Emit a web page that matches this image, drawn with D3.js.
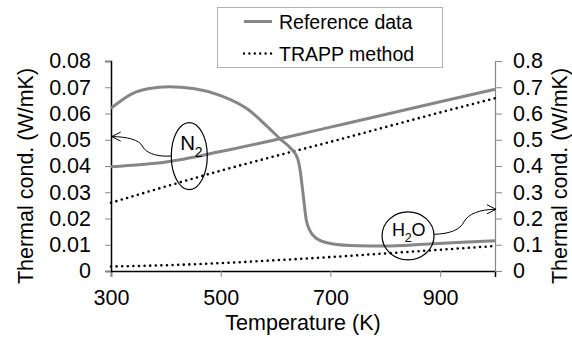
<!DOCTYPE html>
<html>
<head>
<meta charset="utf-8">
<script src="https://cdn.jsdelivr.net/npm/d3@7"></script>
<style>
  body { margin: 0; background: #fff; }
  text { font-family: "Liberation Sans", Arial, sans-serif; }
</style>
</head>
<body>
<div id="chart"></div>
<script>
// temperatures (K) and thermal conductivity (W/mK)
const n2Temp = [300, 400, 500, 600, 700, 800, 900, 1000];
const n2Ref = [0.0397, 0.0415, 0.0455, 0.0500, 0.0548, 0.0596, 0.0645, 0.0692];
const n2Trapp = [0.0260, 0.0322, 0.0382, 0.0438, 0.0492, 0.0548, 0.0604, 0.0658];

const h2oTemp = [300, 340, 370, 405, 450, 500, 550, 585, 610, 630, 640, 645, 650, 656, 662, 674, 700, 750, 800, 870, 930, 1000];
const h2oRef = [0.620, 0.677, 0.695, 0.702, 0.695, 0.668, 0.615, 0.550, 0.500, 0.462, 0.430, 0.380, 0.296, 0.194, 0.156, 0.125, 0.105, 0.096, 0.095, 0.102, 0.109, 0.115];
const h2oTrappTemp = [300, 400, 500, 600, 700, 800, 900, 1000];
const h2oTrapp = [0.017, 0.022, 0.030, 0.041, 0.053, 0.067, 0.081, 0.095];

const xTicks = [300, 500, 700, 900];
const leftTicks = [0, 0.01, 0.02, 0.03, 0.04, 0.05, 0.06, 0.07, 0.08];
const rightTicks = [0, 0.1, 0.2, 0.3, 0.4, 0.5, 0.6, 0.7, 0.8];
const legendLabels = ["Reference data", "TRAPP method"];

const W = 572, H = 339;
const margin = {top: 61, right: 77, bottom: 68, left: 111},
  width = W - margin.left - margin.right,
  height = H - margin.top - margin.bottom;

const grey = "#868686";
const fontSize = "21.5px";

const svg = d3.select("#chart")
  .append("svg")
  .attr("width", W)
  .attr("height", H);

const g = svg.append("g")
  .attr("transform", `translate(${margin.left},${margin.top})`);

const x = d3.scaleLinear().domain([300, 1000]).range([0, width]);
const yL = d3.scaleLinear().domain([0, 0.08]).range([height, 0]);
const yR = d3.scaleLinear().domain([0, 0.8]).range([height, 0]);

// axes
const xAxis = g.append("g")
  .attr("transform", `translate(0,${height})`)
  .call(d3.axisBottom(x).tickValues(xTicks).tickSize(6).tickPadding(13).tickFormat(d3.format("d")));
xAxis.select(".domain").attr("stroke", "#000").attr("stroke-width", 1.5);

const leftAxis = g.append("g")
  .call(d3.axisLeft(yL).tickValues(leftTicks).tickSize(6).tickPadding(14)
    .tickFormat(d => d === 0 ? "0" : d3.format(".2f")(d)));
leftAxis.select(".domain").attr("stroke", "#000").attr("stroke-width", 1.5);

const rightAxis = g.append("g")
  .attr("transform", `translate(${width},0)`)
  .call(d3.axisRight(yR).tickValues(rightTicks).tickSize(7).tickPadding(11)
    .tickFormat(d => d === 0 ? "0" : d3.format(".1f")(d)));
rightAxis.select(".domain").attr("stroke", grey).attr("stroke-width", 1.2);

g.selectAll(".tick line").attr("stroke", grey);
g.selectAll(".tick text")
  .style("font-size", fontSize)
  .style("font-family", "Liberation Sans, Arial, sans-serif")
  .attr("fill", "#000");

// axis titles
svg.append("text")
  .attr("transform", "translate(33,176) rotate(-90)")
  .attr("text-anchor", "middle")
  .style("font-size", fontSize)
  .text("Thermal cond. (W/mK)");

svg.append("text")
  .attr("transform", "translate(566.5,176) rotate(-90)")
  .attr("text-anchor", "middle")
  .style("font-size", fontSize)
  .text("Thermal cond. (W/mK)");

svg.append("text")
  .attr("x", margin.left + width / 2)
  .attr("y", 330)
  .attr("text-anchor", "middle")
  .style("font-size", fontSize)
  .text("Temperature (K)");

// lines
const lineOf = (ys, temps, yScale) => d3.line()
  .x((d, i) => x(temps[i]))
  .y(d => yScale(d))
  .curve(d3.curveMonotoneX)(ys);

function solid(d) {
  g.append("path").attr("d", d).attr("fill", "none")
    .attr("stroke", grey).attr("stroke-width", 3);
}
function dotted(d) {
  g.append("path").attr("d", d).attr("fill", "none")
    .attr("stroke", "#000").attr("stroke-width", 2.6)
    .attr("stroke-linecap", "round")
    .attr("stroke-dasharray", "0,5.6");
}

dotted(lineOf(h2oTrapp, h2oTrappTemp, yR));
dotted(lineOf(n2Trapp, n2Temp, yL));
solid(lineOf(h2oRef, h2oTemp, yR));
solid(lineOf(n2Ref, n2Temp, yL));

// annotations
svg.append("defs").append("marker")
  .attr("id", "arr")
  .attr("markerUnits", "userSpaceOnUse")
  .attr("markerWidth", 12).attr("markerHeight", 12)
  .attr("refX", 10).attr("refY", 6)
  .attr("orient", "auto")
  .append("path")
  .attr("d", "M1,1.5 L10,6 L1,10.5")
  .attr("fill", "none").attr("stroke", "#000").attr("stroke-width", 1);

const n2c = [x(442.7), yL(0.0438)];
g.append("ellipse")
  .attr("cx", n2c[0]).attr("cy", n2c[1]).attr("rx", 18).attr("ry", 33.5)
  .attr("fill", "none").attr("stroke", "#000").attr("stroke-width", 1.2);
g.append("text").attr("x", n2c[0] - 9).attr("y", n2c[1] - 6)
  .style("font-size", "20.5px").text("N");
g.append("text").attr("x", n2c[0] + 5.5).attr("y", n2c[1] + 0.5)
  .style("font-size", "14px").text("2");

const n2tip = [0.7, yL(0.0512)];
g.append("path")
  .attr("d", `M${n2c[0] - 18},${n2c[1]} C${n2c[0] - 35},${n2c[1] + 1} ${n2c[0] - 44},${n2c[1] - 4} ${n2c[0] - 47},${n2c[1] - 10} C${n2c[0] - 50},${n2c[1] - 16} ${n2c[0] - 62},${n2tip[1]} ${n2tip[0]},${n2tip[1]}`)
  .attr("fill", "none").attr("stroke", "#000").attr("stroke-width", 1)
  .attr("marker-end", "url(#arr)");

const h2oc = [x(841.5), yR(0.134)];
g.append("ellipse")
  .attr("cx", h2oc[0]).attr("cy", h2oc[1]).attr("rx", 26).attr("ry", 24)
  .attr("fill", "none").attr("stroke", "#000").attr("stroke-width", 1.2);
g.append("text").attr("x", h2oc[0] - 16).attr("y", h2oc[1] + 0.5)
  .style("font-size", "18px").text("H");
g.append("text").attr("x", h2oc[0] - 3.3).attr("y", h2oc[1] + 6)
  .style("font-size", "12.5px").text("2");
g.append("text").attr("x", h2oc[0] + 3.5).attr("y", h2oc[1] + 0.5)
  .style("font-size", "18px").text("O");

const h2otip = [width + 1, yR(0.235)];
g.append("path")
  .attr("d", `M${h2oc[0] + 26},${h2oc[1] - 1.5} C${h2oc[0] + 42},${h2oc[1] - 2} ${h2oc[0] + 52},${h2oc[1] - 6} ${h2oc[0] + 56},${h2oc[1] - 14} C${h2oc[0] + 60},${h2oc[1] - 22} ${h2oc[0] + 72},${h2otip[1]} ${h2otip[0]},${h2otip[1]}`)
  .attr("fill", "none").attr("stroke", "#000").attr("stroke-width", 1)
  .attr("marker-end", "url(#arr)");

// legend
const legend = svg.append("g");
legend.append("rect")
  .attr("x", 217.5).attr("y", 7.5).attr("width", 225).attr("height", 60)
  .attr("fill", "#fff").attr("stroke", "#b0b0b0").attr("stroke-width", 1);

legendLabels.forEach((lab, i) => {
  const ly = i === 0 ? 21.5 : 53.5;
  const ln = legend.append("line")
    .attr("x1", 244).attr("x2", 272).attr("y1", ly).attr("y2", ly);
  if (i === 0) ln.attr("stroke", grey).attr("stroke-width", 3);
  else ln.attr("stroke", "#000").attr("stroke-width", 2.4)
    .attr("stroke-linecap", "round").attr("stroke-dasharray", "0,5.4");
  legend.append("text")
    .attr("x", 279).attr("y", ly + 7)
    .style("font-size", "19.5px")
    .text(lab);
});
</script>
</body>
</html>
